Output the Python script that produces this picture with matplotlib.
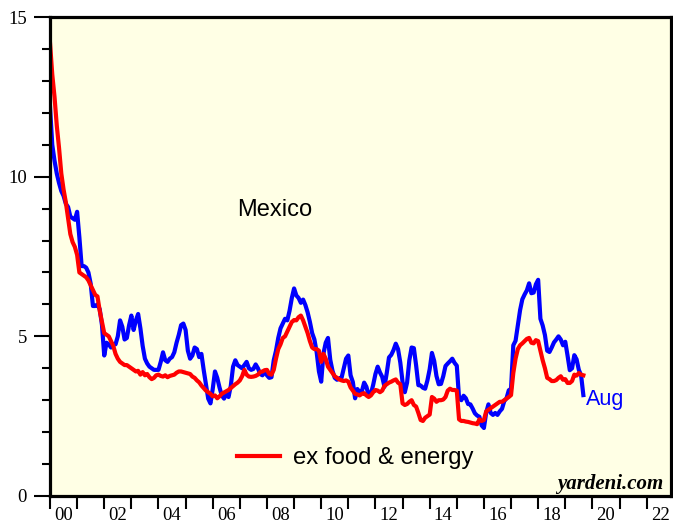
import numpy as np
import pandas as pd
from matplotlib import pyplot as plt
from matplotlib.ticker import MultipleLocator, FixedLocator, FixedFormatter

# monthly, Dec 1999 .. Aug 2019 (y/y %)
headline = [12.2,
    11.0, 10.5, 10.1, 9.8, 9.55, 9.4, 9.15, 9.05, 8.75, 8.7, 8.65, 8.9,       # 2000
    8.1, 7.2, 7.2, 7.15, 7.0, 6.65, 5.95, 5.95, 6.0, 5.85, 5.35, 4.4,         # 2001
    4.8, 4.75, 4.65, 4.75, 4.75, 5.0, 5.5, 5.3, 4.9, 4.95, 5.35, 5.65,        # 2002
    5.2, 5.5, 5.7, 5.25, 4.7, 4.3, 4.15, 4.05, 4.0, 3.95, 3.95, 3.95,         # 2003
    4.2, 4.5, 4.25, 4.2, 4.3, 4.35, 4.5, 4.8, 5.05, 5.35, 5.4, 5.2,           # 2004
    4.55, 4.3, 4.4, 4.65, 4.6, 4.35, 4.45, 3.95, 3.5, 3.05, 2.9, 3.35,        # 2005
    3.9, 3.7, 3.4, 3.15, 3.05, 3.2, 3.1, 3.45, 4.05, 4.25, 4.1, 4.05,         # 2006
    4.0, 4.1, 4.2, 4.0, 3.95, 3.98, 4.12, 4.0, 3.82, 3.78, 3.9, 3.78,         # 2007
    3.7, 3.72, 4.25, 4.55, 4.95, 5.25, 5.4, 5.55, 5.5, 5.8, 6.2, 6.5,         # 2008
    6.28, 6.2, 6.05, 6.15, 5.98, 5.75, 5.45, 5.1, 4.9, 4.5, 3.9, 3.58,        # 2009
    4.46, 4.8, 4.95, 4.27, 3.92, 3.7, 3.64, 3.68, 3.7, 4.0, 4.3, 4.4,         # 2010
    3.78, 3.57, 3.06, 3.35, 3.25, 3.28, 3.55, 3.42, 3.15, 3.2, 3.48, 3.82,    # 2011
    4.05, 3.87, 3.73, 3.42, 3.85, 4.34, 4.42, 4.57, 4.77, 4.6, 4.18, 3.57,    # 2012
    3.25, 3.55, 4.25, 4.65, 4.63, 4.09, 3.47, 3.46, 3.39, 3.36, 3.62, 3.97,   # 2013
    4.48, 4.23, 3.76, 3.5, 3.51, 3.75, 4.07, 4.15, 4.22, 4.3, 4.17, 4.08,     # 2014
    3.07, 3.0, 3.14, 3.06, 2.88, 2.87, 2.74, 2.59, 2.52, 2.48, 2.21, 2.13,    # 2015
    2.61, 2.87, 2.6, 2.54, 2.6, 2.54, 2.65, 2.73, 2.97, 3.06, 3.31, 3.36,     # 2016
    4.72, 4.86, 5.35, 5.82, 6.16, 6.31, 6.44, 6.66, 6.35, 6.37, 6.63, 6.77,   # 2017
    5.55, 5.34, 5.04, 4.55, 4.51, 4.65, 4.81, 4.9, 5.0, 4.9, 4.72, 4.83,      # 2018
    4.4, 3.94, 4.0, 4.41, 4.28, 3.95, 3.78, 3.16]                             # 2019

core = [14.2,
    13.2, 12.5, 11.6, 10.9, 10.1, 9.6, 9.2, 8.7, 8.2, 7.95, 7.8, 7.55,        # 2000
    7.0, 6.95, 6.9, 6.85, 6.75, 6.6, 6.45, 6.3, 6.25, 5.8, 5.45, 5.1,         # 2001
    5.05, 5.0, 4.85, 4.7, 4.45, 4.3, 4.2, 4.15, 4.1, 4.1, 4.05, 4.0,          # 2002
    3.95, 3.9, 3.92, 3.8, 3.88, 3.78, 3.82, 3.72, 3.66, 3.7, 3.78, 3.8,       # 2003
    3.76, 3.74, 3.78, 3.72, 3.76, 3.78, 3.8, 3.86, 3.9, 3.9, 3.88, 3.86,      # 2004
    3.84, 3.82, 3.74, 3.7, 3.62, 3.56, 3.46, 3.38, 3.3, 3.25, 3.2, 3.12,      # 2005
    3.15, 3.06, 3.12, 3.2, 3.24, 3.28, 3.32, 3.38, 3.44, 3.5, 3.55, 3.62,     # 2006
    3.75, 3.95, 3.8, 3.74, 3.73, 3.74, 3.76, 3.8, 3.88, 3.9, 3.94, 3.95,      # 2007
    3.82, 3.8, 3.95, 4.3, 4.6, 4.75, 4.95, 5.0, 5.15, 5.3, 5.45, 5.51,        # 2008
    5.5, 5.6, 5.65, 5.5, 5.3, 5.1, 4.85, 4.65, 4.6, 4.6, 4.55, 4.2,           # 2009
    4.45, 4.3, 4.05, 3.95, 3.85, 3.75, 3.7, 3.65, 3.62, 3.6, 3.62, 3.58,      # 2010
    3.4, 3.3, 3.2, 3.18, 3.15, 3.2, 3.22, 3.15, 3.1, 3.15, 3.25, 3.32,        # 2011
    3.3, 3.25, 3.3, 3.45, 3.5, 3.55, 3.58, 3.62, 3.65, 3.55, 3.5, 2.9,        # 2012
    2.85, 2.88, 2.95, 3.0, 2.85, 2.8, 2.6, 2.38, 2.35, 2.45, 2.5, 2.55,       # 2013
    3.1, 3.05, 2.95, 3.0, 3.0, 3.02, 3.1, 3.3, 3.36, 3.32, 3.32, 3.3,         # 2014
    2.4, 2.35, 2.35, 2.33, 2.32, 2.3, 2.28, 2.27, 2.25, 2.4, 2.35, 2.38,      # 2015
    2.65, 2.7, 2.75, 2.8, 2.85, 2.9, 2.95, 2.95, 3.0, 3.05, 3.1, 3.16,        # 2016
    3.85, 4.3, 4.6, 4.72, 4.78, 4.85, 4.92, 4.95, 4.8, 4.78, 4.88, 4.85,      # 2017
    4.55, 4.25, 4.0, 3.7, 3.66, 3.6, 3.6, 3.63, 3.7, 3.75, 3.64, 3.66,        # 2018
    3.54, 3.54, 3.6, 3.8, 3.77, 3.85, 3.8, 3.78]                              # 2019

dates = pd.date_range('1999-12-01', '2019-08-01', freq='MS')
t = dates.year + dates.month / 12.0

years = np.arange(2000, 2023)
year_labels = [f'{y % 100:02d}' for y in years[::2]]

plt.rcParams.update({'font.size': 13.5})
serif = 'Liberation Serif'
sans = 'Liberation Sans'

fig = plt.figure(figsize=(6.73, 5.27), dpi=100)
ax = fig.add_axes([50/673, 31/527, 620.5/673, 479/527])
ax.set_facecolor('#FFFFE5')

ax.plot(t, headline, color='#0000FF', lw=3.0, solid_joinstyle='round')
ax.plot(t, core, color='#FF0000', lw=3.0, solid_joinstyle='round', label='ex food & energy')

ax.set_xlim(2000, 2022.88)
ax.set_ylim(0, 15)

for s in ax.spines.values():
    s.set_linewidth(2.3)
    s.set_color('black')

ax.yaxis.set_major_locator(MultipleLocator(5))
ax.yaxis.set_minor_locator(MultipleLocator(1))
ax.tick_params(axis='y', which='major', length=11.5, width=1.5, pad=5, labelsize=13.5)
ax.tick_params(axis='y', which='minor', length=6, width=1.5)
for lab in ax.get_yticklabels():
    lab.set_family(serif)

ax.xaxis.set_major_locator(FixedLocator(years))
ax.xaxis.set_major_formatter(FixedFormatter([''] * len(years)))
ax.xaxis.set_minor_locator(FixedLocator(years[::2] + 0.5))
ax.xaxis.set_minor_formatter(FixedFormatter(year_labels))
ax.tick_params(axis='x', which='major', length=9.5, width=1.5, direction='out')
ax.tick_params(axis='x', which='minor', length=0, pad=8, labelsize=13.5)
for lab in ax.get_xticklabels(minor=True):
    lab.set_family(serif)

ax.text(0.3626, 0.597, 'Mexico', transform=ax.transAxes, ha='center', va='center',
        family=sans, fontsize=17)
ax.annotate('Aug', (t[-1], headline[-1]), xytext=(2, -3), textcoords='offset points',
            ha='left', va='center', color='#0000FF', family=sans, fontsize=15.5)
ax.text(0.988, 0.0146, 'yardeni.com', transform=ax.transAxes, ha='right', va='baseline',
        family=serif, fontsize=15, fontweight='bold', fontstyle='italic')

ax.legend(loc='center left', bbox_to_anchor=(0.301, 0.0793), frameon=False,
          borderpad=0, borderaxespad=0, handlelength=1.8, handletextpad=0.55,
          prop={'family': sans, 'size': 17.2})

fig.savefig('out.png', dpi=100)
